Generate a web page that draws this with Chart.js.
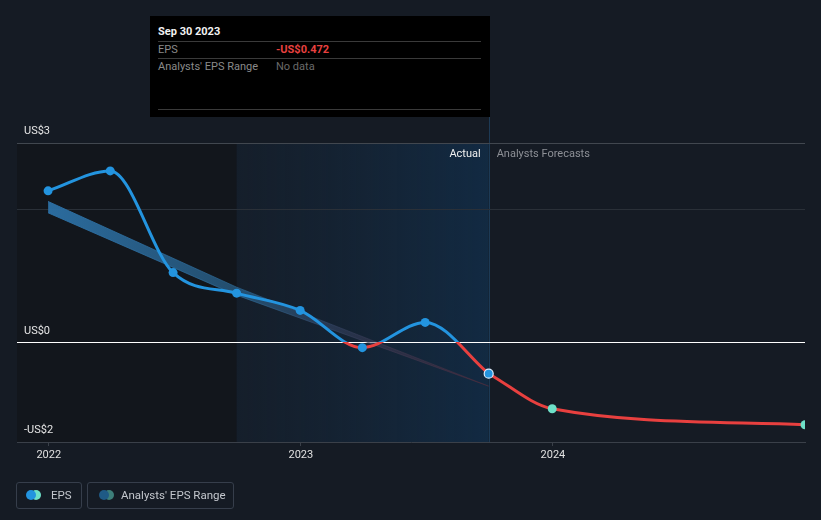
<!DOCTYPE html>
<html>
<head>
<meta charset="utf-8">
<script src="https://cdn.jsdelivr.net/npm/chart.js@4.4.0/dist/chart.umd.min.js"></script>
<style>
  html, body { margin: 0; padding: 0; background: #151b24; }
  body { width: 821px; height: 520px; position: relative; overflow: hidden; font-family: Roboto, "Noto Sans", sans-serif; }
  #wrap { position: absolute; left: 0; top: 0; width: 821px; height: 520px; }
  .tip { position: absolute; left: 150px; top: 16px; width: 340px; height: 101px; background: #000; }
  .tip .title { position: absolute; left: 8px; top: 9px; font-size: 11px; font-weight: bold; color: #f2f2f2; }
  .tip .rule { position: absolute; left: 8px; width: 323px; height: 1px; background: #3a3a3a; }
  .tip .k { position: absolute; left: 8px; font-size: 11px; color: #8a8a8a; }
  .tip .v { position: absolute; left: 126px; font-size: 11px; }
  .legend { position: absolute; top: 482px; height: 27px; border: 1px solid #363e4b; border-radius: 3px; box-sizing: border-box; font-size: 11.5px; color: #c3c7cd; }
  .legend span.txt { position: absolute; top: 5px; }
  .dot { position: absolute; top: 7px; width: 10px; height: 10px; border-radius: 50%; }
</style>
</head>
<body>
<div id="wrap"><canvas id="epsChart"></canvas></div>

<div class="tip">
  <div class="title">Sep 30 2023</div>
  <div class="rule" style="top:25px"></div>
  <div class="k" style="top:27px">EPS</div>
  <div class="v" style="top:27px;color:#e8403f;font-weight:bold">-US$0.472</div>
  <div class="rule" style="top:42px"></div>
  <div class="k" style="top:44px">Analysts' EPS Range</div>
  <div class="v" style="top:44px;color:#6a6a6a">No data</div>
  <div class="rule" style="top:93px"></div>
</div>

<div class="legend" style="left:16px;width:66px">
  <div class="dot" style="left:14px;background:#6ee0c8"></div>
  <div class="dot" style="left:9px;background:#2394df"></div>
  <span class="txt" style="left:34px">EPS</span>
</div>
<div class="legend" style="left:87px;width:147px">
  <div class="dot" style="left:16px;background:#3d7f7a"></div>
  <div class="dot" style="left:11px;background:#1f5a85"></div>
  <span class="txt" style="left:33px">Analysts' EPS Range</span>
</div>

<script>
// 실적 EPS (분기말 기준)
const actualDates = ['2021-12-31', '2022-03-31', '2022-06-30', '2022-09-30', '2022-12-31', '2023-03-31', '2023-06-30', '2023-09-30'];
const actualEps = [2.28, 2.58, 1.05, 0.74, 0.48, -0.08, 0.30, -0.472];

// 애널리스트 예측 EPS
const forecastDates = ['2023-09-30', '2023-12-31', '2024-12-31'];
const forecastEps = [-0.472, -1.0, -1.24];

// 애널리스트 EPS 범위 (과거 추정 밴드)
const rangeDates = ['2021-12-31', '2022-09-30', '2023-09-30'];
const rangeHigh = [2.12, 0.83, -0.66];
const rangeLow = [1.95, 0.71, -0.66];

// 축 눈금
const yearTicks = ['2022-01-01', '2023-01-01', '2024-01-01'];
const yearLabels = ['2022', '2023', '2024'];
const yTickValues = [3, 0, -1.5];
const yTickLabels = ['US$3', 'US$0', '-US$2'];
const yGridValues = [3, 2];

const pastStart = '2022-09-30';
const forecastStart = '2023-09-30';
const xMin = '2021-11-16';
const xMax = '2024-12-31';

const BLUE = '#2394df';
const RED = '#e8403f';
const TEAL = '#6ee0c8';

const t = d => Date.parse(d);
const toPoints = (dates, vals) => dates.map((d, i) => ({ x: t(d), y: vals[i] }));

// 0 기준 위는 파랑, 아래는 빨강
function signGradient(chart, pos, neg) {
    const { ctx, chartArea, scales } = chart;
    if (!chartArea) return pos;
    const z = scales.y.getPixelForValue(0);
    const f = Math.min(1, Math.max(0, (z - chartArea.top) / (chartArea.bottom - chartArea.top)));
    const g = ctx.createLinearGradient(0, chartArea.top, 0, chartArea.bottom);
    g.addColorStop(0, pos);
    g.addColorStop(f, pos);
    g.addColorStop(f, neg);
    g.addColorStop(1, neg);
    return g;
}

function bandGradient(chart) {
    const { ctx, chartArea, scales } = chart;
    if (!chartArea) return 'rgba(44,110,160,0.8)';
    const x0 = scales.x.getPixelForValue(t(rangeDates[0]));
    const x1 = scales.x.getPixelForValue(t(rangeDates[rangeDates.length - 1]));
    const g = ctx.createLinearGradient(x0, 0, x1, 0);
    g.addColorStop(0, 'rgba(44,112,165,0.95)');
    g.addColorStop(0.45, 'rgba(44,105,150,0.65)');
    g.addColorStop(0.7, 'rgba(60,65,95,0.5)');
    g.addColorStop(1, 'rgba(95,45,60,0.4)');
    return g;
}

// 배경 영역, 그리드, 라벨
const backdrop = {
    id: 'backdrop',
    beforeDatasetsDraw(chart) {
        const { ctx, chartArea: a, scales: { x, y } } = chart;
        ctx.save();
        const xp = x.getPixelForValue(t(pastStart));
        const xf = x.getPixelForValue(t(forecastStart));

        ctx.fillStyle = '#12161c';
        ctx.fillRect(a.left, a.top, xp - a.left, a.bottom - a.top);

        const g = ctx.createLinearGradient(xp, 0, xf, 0);
        g.addColorStop(0, 'rgba(22,38,56,0.35)');
        g.addColorStop(1, 'rgba(18,45,72,0.85)');
        ctx.fillStyle = g;
        ctx.fillRect(xp, a.top, xf - xp, a.bottom - a.top);

        ctx.strokeStyle = '#1d3a55';
        ctx.lineWidth = 1;
        ctx.beginPath();
        ctx.moveTo(Math.round(xf) + 0.5, 117);
        ctx.lineTo(Math.round(xf) + 0.5, a.bottom);
        ctx.stroke();

        yGridValues.forEach((v, i) => {
            const py = Math.round(y.getPixelForValue(v)) + 0.5;
            ctx.strokeStyle = i === 0 ? '#41474f' : '#2a3038';
            ctx.beginPath();
            ctx.moveTo(a.left, py);
            ctx.lineTo(a.right, py);
            ctx.stroke();
        });

        const pz = Math.round(y.getPixelForValue(0)) + 0.5;
        ctx.strokeStyle = '#ffffff';
        ctx.beginPath();
        ctx.moveTo(a.left, pz);
        ctx.lineTo(a.right, pz);
        ctx.stroke();

        ctx.font = '11px Roboto';
        ctx.textBaseline = 'middle';
        ctx.fillStyle = '#e6e6e6';
        ctx.textAlign = 'left';
        yTickValues.forEach((v, i) => {
            ctx.fillText(yTickLabels[i], a.left + 7, y.getPixelForValue(v) - 11.5);
        });

        ctx.textAlign = 'right';
        ctx.fillStyle = '#f0f0f0';
        ctx.fillText('Actual', xf - 8, a.top + 11.5);
        ctx.textAlign = 'left';
        ctx.fillStyle = '#8d9096';
        ctx.fillText('Analysts Forecasts', xf + 8, a.top + 11.5);
        ctx.restore();
    }
};

const lastIdx = actualDates.length - 1;

new Chart(document.getElementById('epsChart'), {
    type: 'line',
    data: {
        datasets: [
            {
                label: 'EPS',
                data: toPoints(actualDates, actualEps),
                order: 1,
                borderColor: ctx => signGradient(ctx.chart, BLUE, RED),
                borderWidth: 3,
                cubicInterpolationMode: 'monotone',
                pointRadius: 4.5,
                pointBackgroundColor: BLUE,
                pointBorderColor: '#dfefff',
                pointBorderWidth: ctx => ctx.dataIndex === lastIdx ? 1.2 : 0,
                fill: false
            },
            {
                label: 'EPS forecast',
                data: toPoints(forecastDates, forecastEps),
                order: 2,
                borderColor: RED,
                borderWidth: 3,
                cubicInterpolationMode: 'monotone',
                pointRadius: ctx => ctx.dataIndex === 0 ? 0 : 4.5,
                pointBackgroundColor: TEAL,
                pointBorderWidth: 0,
                clip: 0,
                fill: false
            },
            {
                label: 'Range high',
                data: toPoints(rangeDates, rangeHigh),
                order: 3,
                borderColor: ctx => bandGradient(ctx.chart),
                borderWidth: 1,
                pointRadius: 0,
                tension: 0,
                fill: false
            },
            {
                label: 'Range low',
                data: toPoints(rangeDates, rangeLow),
                order: 4,
                borderColor: ctx => bandGradient(ctx.chart),
                backgroundColor: ctx => bandGradient(ctx.chart),
                borderWidth: 1,
                pointRadius: 0,
                tension: 0,
                fill: '-1'
            }
        ]
    },
    options: {
        responsive: true,
        maintainAspectRatio: false,
        animation: false,
        layout: { padding: { left: 17, right: 16, top: 143, bottom: 0 } },
        plugins: {
            legend: { display: false },
            tooltip: { enabled: false }
        },
        scales: {
            x: {
                type: 'linear',
                min: t(xMin),
                max: t(xMax),
                afterBuildTicks: scale => {
                    scale.ticks = yearTicks.map(d => ({ value: t(d) }));
                },
                afterFit: scale => { scale.height = 78; },
                ticks: {
                    color: '#e0e0e0',
                    font: { family: 'Roboto', size: 11 },
                    padding: 3,
                    maxRotation: 0,
                    autoSkip: false,
                    callback: value => yearLabels[yearTicks.findIndex(d => t(d) === value)] ?? ''
                },
                grid: { drawOnChartArea: false, drawTicks: true, tickLength: 4, color: '#3a4049' },
                border: { color: '#3a4049' }
            },
            y: {
                display: false,
                min: -1.5,
                max: 3
            }
        }
    },
    plugins: [backdrop]
});
</script>
</body>
</html>
